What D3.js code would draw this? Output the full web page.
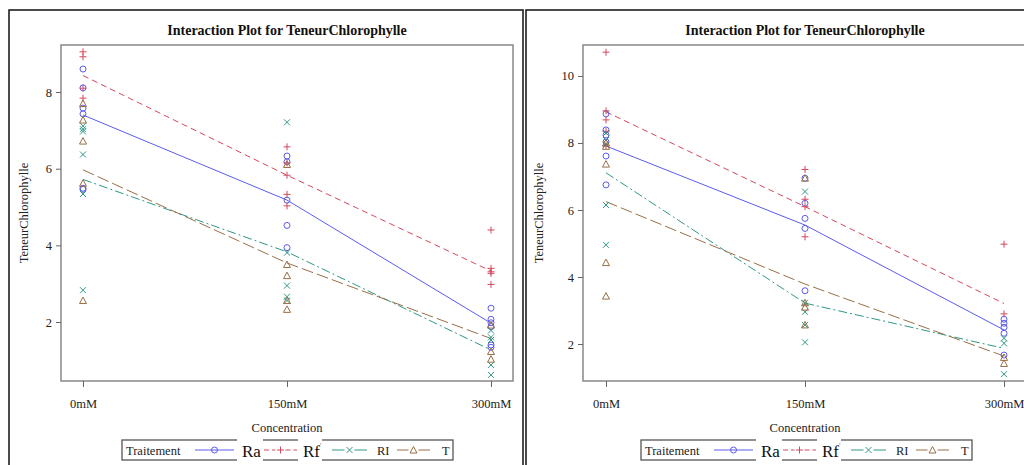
<!DOCTYPE html>
<html>
<head>
<meta charset="utf-8">
<script src="https://cdn.jsdelivr.net/npm/d3@7"></script>
<style>
body { margin: 0; background: #fff; }
svg { display: block; }
</style>
</head>
<body>
<svg id="chart" width="1024" height="465"></svg>
<script>
var concentrations = ['0mM', '150mM', '300mM'];
var treatments = ['Ra', 'Rf', 'RI', 'T'];

// left panel: observations per treatment, one list per concentration
var leftRa = [[8.6, 8.11, 7.58, 7.43, 5.49, 5.46], [6.33, 6.18, 5.18, 4.52, 3.94], [2.36, 2.07, 1.98, 1.88, 1.4, 1.34]];
var leftRf = [[9.05, 8.92, 8.1, 7.84], [6.57, 6.15, 5.83, 5.33, 5.03], [4.4, 3.4, 3.31, 3.27, 2.98]];
var leftRI = [[7.11, 7.03, 6.97, 6.37, 5.34, 2.83], [7.21, 3.81, 2.95, 2.66, 2.56], [1.78, 1.6, 1.53, 0.88, 0.62]];
var leftT = [[7.7, 7.27, 6.72, 5.62, 2.56], [6.11, 3.5, 3.21, 2.56, 2.33], [1.92, 1.23, 1.03]];
// left panel: means (interaction lines)
var leftMeanRa = [7.4, 5.18, 1.97];
var leftMeanRf = [8.43, 5.83, 3.33];
var leftMeanRI = [5.72, 3.83, 1.27];
var leftMeanT = [5.97, 3.54, 1.57];
var leftTicks = [2, 4, 6, 8];

// right panel
var rightRa = [[8.87, 8.39, 8.24, 8.03, 7.61, 6.75], [6.95, 6.2, 5.75, 5.45, 3.59], [2.74, 2.62, 2.5, 2.32, 1.67]];
var rightRf = [[10.71, 8.96, 8.69, 8.35, 7.91], [7.21, 6.32, 6.1, 5.2], [4.98, 2.9]];
var rightRI = [[8.3, 8.09, 7.95, 6.15, 4.96], [6.55, 3.23, 2.96, 2.57, 2.05], [2.17, 2.02, 1.1]];
var rightT = [[8.0, 7.9, 7.37, 4.43, 3.43], [6.95, 3.23, 3.1, 2.57], [1.42, 1.6]];
var rightMeanRa = [7.91, 5.55, 2.42];
var rightMeanRf = [8.93, 6.1, 3.21];
var rightMeanRI = [7.11, 3.22, 1.87];
var rightMeanT = [6.25, 3.79, 1.64];
var rightTicks = [2, 4, 6, 8, 10];

var colors = { Ra: '#5b5bf0', Rf: '#d4485c', RI: '#2f9787', T: '#9a6f45' };
var dashes = { Ra: null, Rf: '6,4', RI: '9,3,2,3', T: '12,4' };
var serif = '"Liberation Serif", "Times New Roman", serif';

var svg = d3.select('#chart');

function marker(g, type, x, y, c) {
	if (type == 'Ra') {
		g.append('circle').attr('cx', x).attr('cy', y).attr('r', 3)
			.attr('fill', 'none').attr('stroke', c).attr('stroke-width', 1);
	} else if (type == 'Rf') {
		g.append('path').attr('d', 'M' + (x-3.5) + ',' + y + 'h7M' + x + ',' + (y-3.5) + 'v7')
			.attr('stroke', c).attr('stroke-width', 1).attr('fill', 'none');
	} else if (type == 'RI') {
		g.append('path').attr('d', 'M' + (x-3) + ',' + (y-3) + 'l6,6M' + (x-3) + ',' + (y+3) + 'l6,-6')
			.attr('stroke', c).attr('stroke-width', 1).attr('fill', 'none');
	} else {
		g.append('path').attr('d', 'M' + x + ',' + (y-3.5) + 'L' + (x+3.5) + ',' + (y+3) + 'L' + (x-3.5) + ',' + (y+3) + 'Z')
			.attr('stroke', c).attr('stroke-width', 1).attr('fill', 'none');
	}
}

function drawPanel(p) {
	var g = svg.append('g');
	// outer frame
	g.append('rect').attr('x', p.left).attr('y', 10).attr('width', p.width).attr('height', 470)
		.attr('fill', 'none').attr('stroke', '#111').attr('stroke-width', 1.5);

	g.append('text').attr('x', p.left + p.titleX).attr('y', 35)
		.attr('text-anchor', 'middle').attr('font-family', serif)
		.attr('font-weight', 'bold').attr('font-size', '14px').attr('fill', '#111')
		.text('Interaction Plot for TeneurChlorophylle');

	var x = d3.scalePoint().domain(concentrations).range([p.x0, p.x0 + p.xStep * 2]);
	var y = d3.scaleLinear().domain(p.ydomain).range([381, 45]);

	g.append('rect').attr('x', p.plotL).attr('y', 45).attr('width', p.plotR - p.plotL).attr('height', 336)
		.attr('fill', 'none').attr('stroke', '#888').attr('stroke-width', 1.5);

	var yAxis = g.append('g').attr('transform', 'translate(' + p.plotL + ',0)')
		.call(d3.axisLeft(y).tickValues(p.ticks).tickSize(5).tickPadding(4).tickFormat(d3.format('d')));
	var xAxis = g.append('g').attr('transform', 'translate(0,381)')
		.call(d3.axisBottom(x).tickSize(6).tickPadding(12));
	[yAxis, xAxis].forEach(function(a) {
		a.select('.domain').remove();
		a.selectAll('line').attr('stroke', '#666');
		a.selectAll('text').attr('font-family', serif).attr('font-size', '12.5px').attr('fill', '#222');
	});

	g.append('text').attr('transform', 'translate(' + (p.left + p.ytitleX) + ',213) rotate(-90)')
		.attr('text-anchor', 'middle').attr('font-family', serif).attr('font-size', '12.5px').attr('fill', '#222')
		.text('TeneurChlorophylle');
	g.append('text').attr('x', x('150mM')).attr('y', 432)
		.attr('text-anchor', 'middle').attr('font-family', serif).attr('font-size', '12.5px').attr('fill', '#222')
		.text('Concentration');

	var line = d3.line().x(function(d, i) { return x(concentrations[i]); }).y(function(d) { return y(d); });
	treatments.forEach(function(t) {
		g.append('path').datum(p.means[t]).attr('d', line)
			.attr('fill', 'none').attr('stroke', colors[t]).attr('stroke-width', 1)
			.attr('stroke-dasharray', dashes[t]);
	});
	treatments.forEach(function(t) {
		p.obs[t].forEach(function(list, i) {
			list.forEach(function(v) {
				marker(g, t, x(concentrations[i]), y(v), colors[t]);
			});
		});
	});

	// legend
	var lx = p.left + p.legX, ly = 440;
	var leg = g.append('g');
	leg.append('rect').attr('x', lx).attr('y', ly).attr('width', 331).attr('height', 20)
		.attr('fill', '#fff').attr('stroke', '#555').attr('stroke-width', 1.3);
	leg.append('text').attr('x', lx + 4).attr('y', ly + 15).attr('font-family', serif)
		.attr('font-size', '12.5px').attr('fill', '#222').text('Traitement');
	var items = [
		{ t: 'Ra', l0: 73, l1: 112, label: 'Ra', lx: 120, gap: [115, 141] },
		{ t: 'Rf', l0: 142, l1: 175, label: 'Rf', lx: 181, gap: [176, 200] },
		{ t: 'RI', l0: 210, l1: 245, label: 'RI', lx: 255, gap: null },
		{ t: 'T', l0: 275, l1: 308, label: 'T', lx: 320, gap: null }
	];
	items.forEach(function(it) {
		var c = colors[it.t], mid = (it.l0 + it.l1) / 2;
		// two segments either side of the marker
		[[it.l0, mid - 5], [mid + 5, it.l1]].forEach(function(s) {
			leg.append('line').attr('x1', lx + s[0]).attr('x2', lx + s[1]).attr('y1', ly + 10).attr('y2', ly + 10)
				.attr('stroke', c).attr('stroke-width', 1).attr('stroke-dasharray', it.t == 'Rf' ? '5,3' : null);
		});
		if (it.t == 'Ra')
			leg.append('line').attr('x1', lx + mid - 5).attr('x2', lx + mid + 5).attr('y1', ly + 10).attr('y2', ly + 10)
				.attr('stroke', c).attr('stroke-width', 1);
		marker(leg, it.t, lx + mid, ly + 10, c);
		if (it.gap) {
			leg.append('rect').attr('x', lx + it.gap[0]).attr('y', ly - 1).attr('width', it.gap[1] - it.gap[0])
				.attr('height', 22).attr('fill', '#fff');
			leg.append('text').attr('x', lx + it.lx).attr('y', ly + 16.5).attr('font-family', serif)
				.attr('font-size', '17px').attr('fill', '#111').text(it.label);
		} else {
			leg.append('text').attr('x', lx + it.lx).attr('y', ly + 15).attr('font-family', serif)
				.attr('font-size', '12.5px').attr('fill', '#222').text(it.label);
		}
	});
	leg.append('text').attr('x', lx + 198).attr('y', ly + 9).attr('font-family', serif)
		.attr('font-size', '8px').attr('fill', '#888').text("'");
}

drawPanel({
	left: 9, width: 514, titleX: 278, ytitleX: 19, legX: 113,
	plotL: 61, plotR: 513, x0: 83, xStep: 204,
	ydomain: [0.461, 9.227], ticks: leftTicks,
	obs: { Ra: leftRa, Rf: leftRf, RI: leftRI, T: leftT },
	means: { Ra: leftMeanRa, Rf: leftMeanRf, RI: leftMeanRI, T: leftMeanT }
});
drawPanel({
	left: 526, width: 520, titleX: 279, ytitleX: 17, legX: 115,
	plotL: 583, plotR: 1030, x0: 606, xStep: 199,
	ydomain: [0.896, 10.925], ticks: rightTicks,
	obs: { Ra: rightRa, Rf: rightRf, RI: rightRI, T: rightT },
	means: { Ra: rightMeanRa, Rf: rightMeanRf, RI: rightMeanRI, T: rightMeanT }
});
</script>
</body>
</html>
